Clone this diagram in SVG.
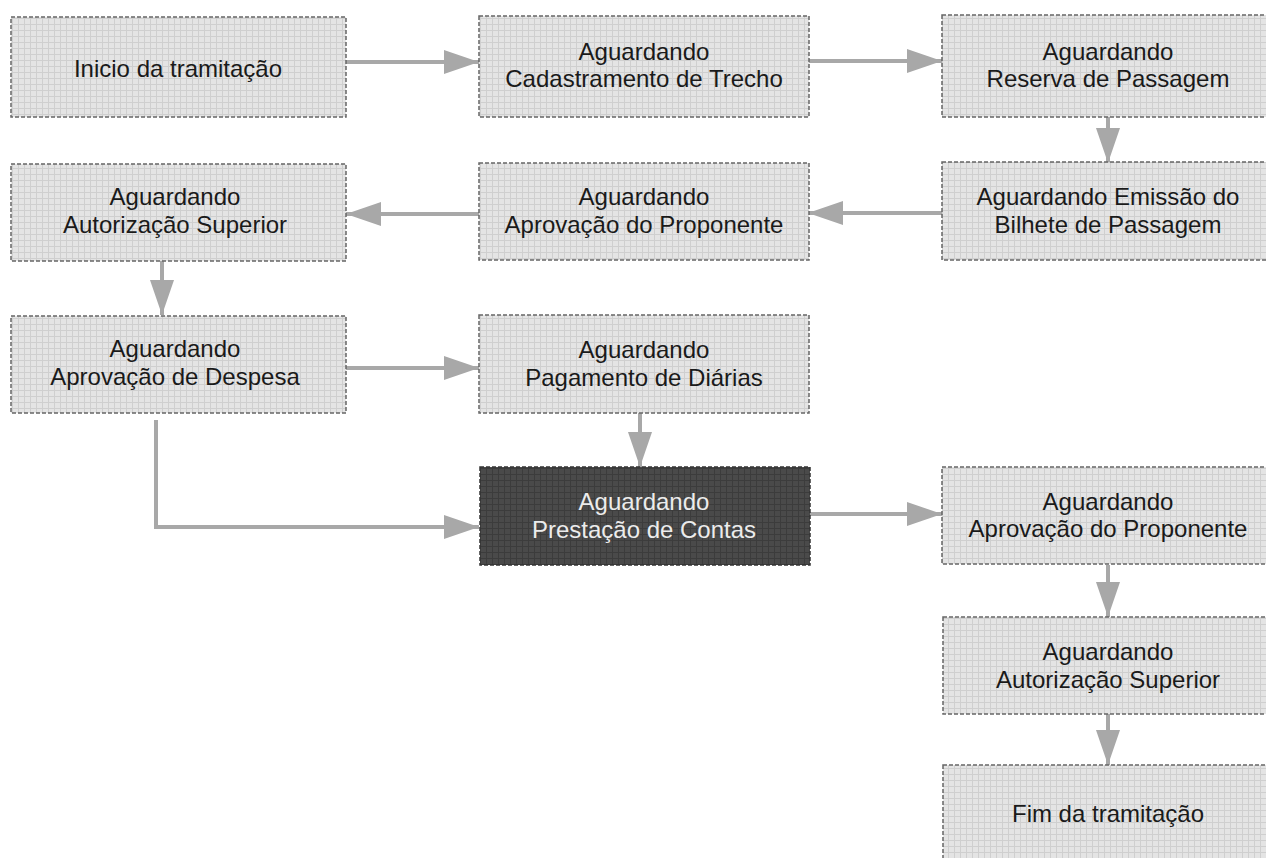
<svg xmlns="http://www.w3.org/2000/svg" width="1266" height="858" viewBox="0 0 1266 858">
<defs>
<pattern id="tex" width="6" height="6" patternUnits="userSpaceOnUse">
<rect width="6" height="6" fill="#e4e4e4"/>
<path d="M0 0.5H6M0.5 0V6" stroke="#cfcfcf" stroke-width="1"/>
</pattern>
<pattern id="texd" width="6" height="6" patternUnits="userSpaceOnUse">
<rect width="6" height="6" fill="#4a4a4a"/>
<path d="M0 0.5H6M0.5 0V6" stroke="#3c3c3c" stroke-width="1"/>
</pattern>
<marker id="ah" markerUnits="userSpaceOnUse" markerWidth="36" markerHeight="26" refX="35" refY="12" orient="auto">
<path d="M0 0L35 12L0 24z" fill="#a8a8a8"/>
</marker>
</defs>
<style>
.box{fill:url(#tex);stroke:#666;stroke-width:1.5;stroke-dasharray:4 2}
.dark{fill:url(#texd);stroke:#333;stroke-width:1.5;stroke-dasharray:4 2}
.t{font-family:"Liberation Sans",Arial,sans-serif;font-size:24px;fill:#1a1a1a;text-anchor:middle}
.tw{font-family:"Liberation Sans",Arial,sans-serif;font-size:24px;fill:#ececec;text-anchor:middle}
.c{fill:none;stroke:#a8a8a8;stroke-width:4;marker-end:url(#ah)}
</style>
<rect width="1266" height="858" fill="#ffffff"/>
<g id="connectors">
<line class="c" x1="346" y1="62" x2="479" y2="62"/>
<line class="c" x1="808" y1="61" x2="942" y2="61"/>
<line class="c" x1="1108" y1="117" x2="1108" y2="163"/>
<line class="c" x1="942" y1="213" x2="808" y2="213"/>
<line class="c" x1="479" y1="214" x2="346" y2="214"/>
<line class="c" x1="162" y1="261" x2="162" y2="315"/>
<line class="c" x1="346" y1="368" x2="479" y2="368"/>
<line class="c" x1="640" y1="413" x2="640" y2="467"/>
<path class="c" d="M156 420V527H479"/>
<line class="c" x1="809" y1="514" x2="942" y2="514"/>
<line class="c" x1="1108" y1="565" x2="1108" y2="617"/>
<line class="c" x1="1108" y1="714" x2="1108" y2="765"/>
</g>
<g id="n1"><rect class="box" x="11" y="17" width="335" height="100"/><text class="t" x="178" y="77">Inicio da tramitação</text></g>
<g id="n2"><rect class="box" x="479" y="16" width="330" height="101"/><text class="t" x="644" y="60">Aguardando</text><text class="t" x="644" y="87">Cadastramento de Trecho</text></g>
<g id="n3"><rect class="box" x="942" y="15" width="332" height="102"/><text class="t" x="1108" y="60">Aguardando</text><text class="t" x="1108" y="87">Reserva de Passagem</text></g>
<g id="n4"><rect class="box" x="942" y="162" width="332" height="98"/><text class="t" x="1108" y="205">Aguardando Emissão do</text><text class="t" x="1108" y="233">Bilhete de Passagem</text></g>
<g id="n5"><rect class="box" x="479" y="163" width="330" height="97"/><text class="t" x="644" y="205">Aguardando</text><text class="t" x="644" y="233">Aprovação do Proponente</text></g>
<g id="n6"><rect class="box" x="11" y="164" width="335" height="97"/><text class="t" x="175" y="205">Aguardando</text><text class="t" x="175" y="233">Autorização Superior</text></g>
<g id="n7"><rect class="box" x="11" y="316" width="335" height="97"/><text class="t" x="175" y="357">Aguardando</text><text class="t" x="175" y="385">Aprovação de Despesa</text></g>
<g id="n8"><rect class="box" x="479" y="315" width="330" height="98"/><text class="t" x="644" y="358">Aguardando</text><text class="t" x="644" y="386">Pagamento de Diárias</text></g>
<g id="n9"><rect class="dark" x="480" y="467" width="330" height="98"/><text class="tw" x="644" y="510">Aguardando</text><text class="tw" x="644" y="538">Prestação de Contas</text></g>
<g id="n10"><rect class="box" x="942" y="467" width="332" height="97"/><text class="t" x="1108" y="510">Aguardando</text><text class="t" x="1108" y="537">Aprovação do Proponente</text></g>
<g id="n11"><rect class="box" x="943" y="617" width="331" height="97"/><text class="t" x="1108" y="660">Aguardando</text><text class="t" x="1108" y="688">Autorização Superior</text></g>
<g id="n12"><rect class="box" x="943" y="765" width="331" height="100"/><text class="t" x="1108" y="822">Fim da tramitação</text></g>
</svg>
